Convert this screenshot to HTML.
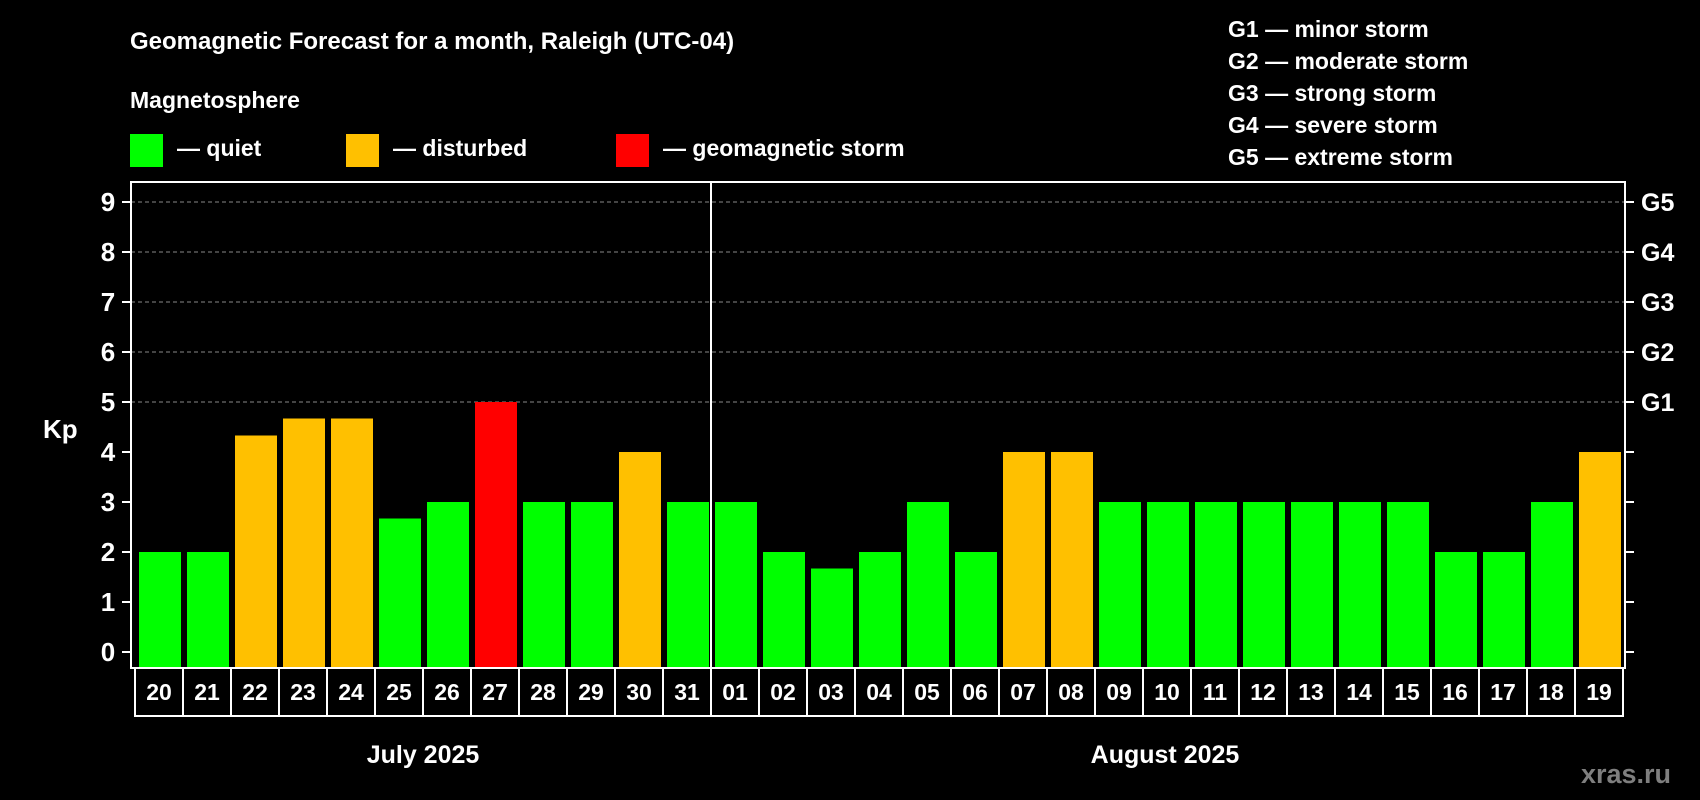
<!DOCTYPE html>
<html><head><meta charset="utf-8"><style>
html,body{margin:0;padding:0;background:#000;}
svg{display:block;font-family:"Liberation Sans",Arial,sans-serif;font-weight:bold;}
</style></head><body>
<svg id="c" width="1700" height="800" viewBox="0 0 1700 800" xmlns="http://www.w3.org/2000/svg">
<rect width="1700" height="800" fill="#000"/>
<text x="130" y="49" fill="#fff" font-size="24">Geomagnetic Forecast for a month, Raleigh (UTC-04)</text>
<text x="130" y="108" fill="#fff" font-size="23">Magnetosphere</text>
<rect x="130" y="134" width="33" height="33" fill="#00ff00"/>
<text x="177" y="156" fill="#fff" font-size="23">— quiet</text>
<rect x="346" y="134" width="33" height="33" fill="#ffc000"/>
<text x="393" y="156" fill="#fff" font-size="23">— disturbed</text>
<rect x="616" y="134" width="33" height="33" fill="#ff0000"/>
<text x="663" y="156" fill="#fff" font-size="23">— geomagnetic storm</text>
<g font-size="23" fill="#fff">
<text x="1228" y="37">G1 — minor storm</text>
<text x="1228" y="69">G2 — moderate storm</text>
<text x="1228" y="101">G3 — strong storm</text>
<text x="1228" y="133">G4 — severe storm</text>
<text x="1228" y="165">G5 — extreme storm</text>
</g>
<text x="43" y="438" fill="#fff" font-size="26">Kp</text>
<g id="grid"></g>
<g id="bars"></g>
<rect x="131" y="182" width="1494" height="486" fill="none" stroke="#fff" stroke-width="2"/>
<line x1="711" y1="182" x2="711" y2="668" stroke="#fff" stroke-width="2"/>
<g id="axes"></g>
<text x="423" y="763" fill="#fff" font-size="25" text-anchor="middle">July 2025</text>
<text x="1165" y="763" fill="#fff" font-size="25" text-anchor="middle">August 2025</text>
<text x="1626" y="783" fill="#7f7f7f" font-size="27" text-anchor="middle">xras.ru</text>
</svg>
<script>
const days = ["20","21","22","23","24","25","26","27","28","29","30","31","01","02","03","04","05","06","07","08","09","10","11","12","13","14","15","16","17","18","19"];
const kpValues = [2,2,4.33,4.67,4.67,2.67,3,5,3,3,4,3,3,2,1.67,2,3,2,4,4,3,3,3,3,3,3,3,2,2,3,4];
const yTicks = [0,1,2,3,4,5,6,7,8,9];
const gLabels = ["","","","","","G1","G2","G3","G4","G5"];
const NS="http://www.w3.org/2000/svg";
const y0=652, unit=50;
function yS(v){return y0-v*unit;}
function xS(i){return 139+48*i;}
function mk(t,a,p){const e=document.createElementNS(NS,t);for(const k in a)e.setAttribute(k,a[k]);p.appendChild(e);return e;}
const grid=document.getElementById('grid'),bars=document.getElementById('bars'),axes=document.getElementById('axes');
yTicks.forEach((v,i)=>{
  const y=yS(v);
  if(v>=5){const g=mk('line',{x1:131,x2:1625,y1:y,y2:y,stroke:'#888','stroke-dasharray':'4,3','stroke-width':1},grid);
    
    }
  const tl=mk('line',{x1:122,x2:131,y1:y,y2:y,stroke:'#fff','stroke-width':2},axes);
  
  
  const tr=mk('line',{x1:1625,x2:1634,y1:y,y2:y,stroke:'#fff','stroke-width':2},axes);
  
  
  const t=mk('text',{x:108,y:y+9,fill:'#fff','font-size':26,'text-anchor':'middle'},axes);t.textContent=v;
  
  
  if(gLabels[i]){const g=mk('text',{x:1641,y:y+9,fill:'#fff','font-size':25},axes);g.textContent=gLabels[i];
    
    }
});
kpValues.forEach((v,i)=>{
  const c=v>=5?'#ff0000':(v>=4?'#ffc000':'#00ff00');
  const r=mk('rect',{x:xS(i),y:yS(v),width:42,height:668-yS(v),fill:c},bars);
  
  
  const b=mk('rect',{x:135+48*i,y:668,width:48,height:48,fill:'none',stroke:'#fff','stroke-width':2},axes);
  
  
  const t=mk('text',{x:159+48*i,y:700,fill:'#fff','font-size':23,'text-anchor':'middle'},axes);t.textContent=days[i];
  
  
});
</script>
</body></html>
